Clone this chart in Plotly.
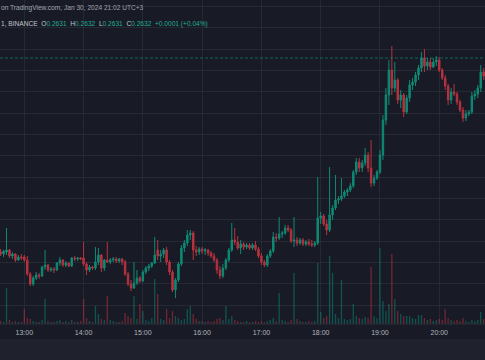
import plotly.graph_objects as go
import pandas as pd

# ---- data (3-minute candles, XRPUSDT-like, BINANCE) ----
open_ = [0.2438,0.2436,0.2438,0.2440,0.2434,0.2436,0.2430,0.2433,0.2433,0.2430,
         0.2416,0.2406,0.2412,0.2415,0.2414,0.2423,0.2425,0.2420,0.2421,0.2420,
         0.2427,0.2430,0.2425,0.2427,0.2424,0.2432,0.2431,0.2432,0.2432,0.2426,
         0.2420,0.2423,0.2422,0.2428,0.2435,0.2422,0.2430,0.2428,0.2430,0.2431,
         0.2429,0.2431,0.2428,0.2416,0.2406,0.2402,0.2407,0.2412,0.2409,0.2418,
         0.2422,0.2424,0.2427,0.2440,0.2434,0.2436,0.2440,0.2428,0.2418,0.2400,
         0.2410,0.2426,0.2442,0.2447,0.2455,0.2457,0.2440,0.2438,0.2441,0.2439,
         0.2440,0.2437,0.2434,0.2430,0.2420,0.2414,0.2422,0.2430,0.2440,0.2450,
         0.2448,0.2442,0.2446,0.2443,0.2445,0.2442,0.2445,0.2441,0.2434,0.2428,
         0.2425,0.2434,0.2439,0.2453,0.2452,0.2456,0.2457,0.2462,0.2460,0.2449,
         0.2450,0.2447,0.2450,0.2446,0.2448,0.2446,0.2445,0.2447,0.2472,0.2474,
         0.2466,0.2460,0.2475,0.2482,0.2490,0.2491,0.2494,0.2498,0.2500,0.2504,
         0.2518,0.2528,0.2522,0.2527,0.2535,0.2522,0.2507,0.2512,0.2518,0.2535,
         0.2570,0.2595,0.2620,0.2602,0.2610,0.2590,0.2595,0.2578,0.2592,0.2605,
         0.2608,0.2615,0.2622,0.2632,0.2624,0.2628,0.2623,0.2628,0.2630,0.2620,
         0.2612,0.2604,0.2590,0.2598,0.2596,0.2588,0.2580,0.2572,0.2576,0.2578,
         0.2594,0.2596,0.2602,0.2618]
high = [0.2441,0.2440,0.2462,0.2441,0.2438,0.2437,0.2435,0.2436,0.2435,0.2434,
        0.2418,0.2414,0.2418,0.2417,0.2424,0.2440,0.2426,0.2423,0.2423,0.2428,
        0.2433,0.2431,0.2429,0.2428,0.2433,0.2434,0.2433,0.2433,0.2448,0.2428,
        0.2425,0.2424,0.2443,0.2442,0.2436,0.2431,0.2448,0.2432,0.2433,0.2433,
        0.2432,0.2432,0.2430,0.2418,0.2410,0.2428,0.2420,0.2414,0.2420,0.2424,
        0.2426,0.2428,0.2453,0.2450,0.2440,0.2442,0.2443,0.2430,0.2420,0.2412,
        0.2428,0.2445,0.2450,0.2460,0.2460,0.2459,0.2444,0.2443,0.2443,0.2442,
        0.2441,0.2439,0.2437,0.2432,0.2424,0.2426,0.2432,0.2442,0.2467,0.2462,
        0.2454,0.2450,0.2448,0.2447,0.2447,0.2447,0.2449,0.2443,0.2437,0.2430,
        0.2436,0.2441,0.2458,0.2457,0.2473,0.2459,0.2465,0.2465,0.2462,0.2473,
        0.2453,0.2452,0.2452,0.2450,0.2451,0.2450,0.2449,0.2513,0.2478,0.2476,
        0.2470,0.2523,0.2485,0.2515,0.2494,0.2512,0.2500,0.2502,0.2507,0.2520,
        0.2532,0.2532,0.2530,0.2542,0.2538,0.2550,0.2515,0.2520,0.2540,0.2575,
        0.2602,0.2630,0.2644,0.2628,0.2612,0.2600,0.2597,0.2595,0.2610,0.2612,
        0.2618,0.2625,0.2638,0.2641,0.2632,0.2632,0.2632,0.2634,0.2633,0.2622,
        0.2615,0.2606,0.2602,0.2606,0.2598,0.2590,0.2583,0.2580,0.2580,0.2598,
        0.2600,0.2605,0.2625,0.2622]
low = [0.2434,0.2433,0.2435,0.2432,0.2431,0.2428,0.2429,0.2430,0.2428,0.2414,
       0.2404,0.2404,0.2410,0.2411,0.2413,0.2420,0.2418,0.2418,0.2417,0.2419,
       0.2424,0.2423,0.2423,0.2423,0.2423,0.2429,0.2429,0.2430,0.2424,0.2415,
       0.2418,0.2420,0.2420,0.2425,0.2418,0.2419,0.2427,0.2426,0.2428,0.2427,
       0.2427,0.2425,0.2414,0.2404,0.2399,0.2401,0.2405,0.2407,0.2408,0.2416,
       0.2419,0.2422,0.2426,0.2430,0.2428,0.2432,0.2425,0.2415,0.2398,0.2392,
       0.2408,0.2424,0.2438,0.2444,0.2450,0.2430,0.2434,0.2435,0.2436,0.2435,
       0.2434,0.2432,0.2428,0.2416,0.2411,0.2412,0.2420,0.2428,0.2438,0.2445,
       0.2440,0.2436,0.2440,0.2441,0.2440,0.2440,0.2439,0.2432,0.2425,0.2423,
       0.2423,0.2432,0.2437,0.2448,0.2450,0.2452,0.2455,0.2458,0.2447,0.2443,
       0.2444,0.2445,0.2444,0.2444,0.2444,0.2443,0.2443,0.2445,0.2466,0.2464,
       0.2455,0.2458,0.2470,0.2480,0.2486,0.2489,0.2492,0.2494,0.2498,0.2502,
       0.2515,0.2518,0.2518,0.2524,0.2518,0.2503,0.2504,0.2510,0.2516,0.2530,
       0.2565,0.2585,0.2595,0.2598,0.2586,0.2582,0.2573,0.2576,0.2588,0.2600,
       0.2604,0.2610,0.2618,0.2618,0.2620,0.2620,0.2622,0.2624,0.2618,0.2610,
       0.2600,0.2585,0.2586,0.2594,0.2585,0.2578,0.2568,0.2569,0.2574,0.2576,
       0.2590,0.2592,0.2598,0.2610]
close = [0.2436,0.2439,0.2440,0.2434,0.2436,0.2430,0.2433,0.2432,0.2430,0.2416,
         0.2406,0.2412,0.2415,0.2414,0.2423,0.2425,0.2420,0.2421,0.2420,0.2427,
         0.2430,0.2425,0.2427,0.2424,0.2432,0.2431,0.2432,0.2431,0.2426,0.2420,
         0.2423,0.2422,0.2428,0.2435,0.2422,0.2430,0.2428,0.2430,0.2431,0.2429,
         0.2431,0.2428,0.2416,0.2406,0.2402,0.2407,0.2412,0.2409,0.2418,0.2422,
         0.2424,0.2427,0.2435,0.2434,0.2436,0.2440,0.2428,0.2418,0.2400,0.2410,
         0.2426,0.2442,0.2447,0.2455,0.2457,0.2440,0.2438,0.2441,0.2439,0.2440,
         0.2437,0.2434,0.2430,0.2420,0.2414,0.2422,0.2430,0.2440,0.2450,0.2448,
         0.2442,0.2446,0.2443,0.2445,0.2442,0.2445,0.2441,0.2434,0.2428,0.2425,
         0.2434,0.2439,0.2453,0.2452,0.2456,0.2457,0.2462,0.2460,0.2449,0.2450,
         0.2447,0.2450,0.2446,0.2448,0.2446,0.2445,0.2447,0.2472,0.2474,0.2466,
         0.2460,0.2475,0.2482,0.2490,0.2491,0.2494,0.2498,0.2500,0.2504,0.2518,
         0.2528,0.2522,0.2527,0.2535,0.2522,0.2507,0.2512,0.2518,0.2535,0.2570,
         0.2595,0.2620,0.2602,0.2610,0.2590,0.2595,0.2578,0.2592,0.2605,0.2608,
         0.2615,0.2622,0.2632,0.2624,0.2628,0.2623,0.2628,0.2630,0.2620,0.2612,
         0.2604,0.2590,0.2598,0.2596,0.2588,0.2580,0.2572,0.2576,0.2578,0.2594,
         0.2596,0.2602,0.2618,0.2614]
volume = [3,2,36,4,2,3,2,2,15,6,
          5,3,2,2,4,25,3,2,2,3,
          4,2,3,2,4,2,2,3,25,6,
          3,2,18,10,5,4,28,4,3,2,
          2,3,11,8,6,28,5,20,13,4,
          3,6,45,30,5,4,15,6,13,8,
          6,4,5,15,18,10,5,3,3,2,
          3,2,3,5,6,4,18,5,8,4,
          3,2,2,3,2,2,3,2,3,2,
          3,4,6,3,31,4,3,2,4,51,
          5,3,2,2,3,2,3,61,12,6,
          8,68,51,10,6,44,5,4,5,20,
          8,6,5,7,6,57,8,6,76,23,
          13,20,70,25,13,10,8,8,8,6,
          5,9,9,6,4,5,3,4,5,4,
          15,6,4,3,4,3,6,3,2,4,
          3,4,12,5]
last_price = 0.2632
header_1 = "on TradingView.com, Jan 30, 2024 21:02 UTC+3"
legend_vals = {"O": "0.2631", "H": "0.2632", "L": "0.2631", "C": "0.2632"}
change_txt = "+0.0001 (+0.04%)"

times = pd.date_range("2024-01-30 12:36", periods=len(close), freq="3min")

UP = "#0e8a74"
DOWN = "#b8323f"
UP_V = "rgba(8,153,129,0.45)"
DOWN_V = "rgba(242,54,69,0.4)"
PANE = "#181b26"
STRIP = "#1f222c"
GRID = "rgba(48,52,64,0.55)"
TXT = "#9598a1"
FONT = "Liberation Sans, Arial, sans-serif"

vcolors = [UP_V if c >= o else DOWN_V for o, c in zip(open_, close)]

fig = go.Figure()
fig.add_trace(go.Bar(x=times, y=volume, marker=dict(color=vcolors, line=dict(width=0)),
                     yaxis="y", hoverinfo="skip"))
fig.add_trace(go.Candlestick(x=times, open=open_, high=high, low=low, close=close,
                             increasing=dict(line=dict(color=UP, width=1), fillcolor=UP),
                             decreasing=dict(line=dict(color=DOWN, width=1), fillcolor=DOWN),
                             whiskerwidth=0, yaxis="y2"))

PLOT_H = 324
fig.update_layout(
    width=485, height=360,
    margin=dict(l=0, r=0, t=0, b=360 - PLOT_H),
    paper_bgcolor=PANE, plot_bgcolor=PANE,
    showlegend=False, bargap=0.55,
    font=dict(family=FONT, color=TXT, size=7),
    xaxis=dict(type="date", range=["2024-01-30 12:35:24", "2024-01-30 20:46:18"],
               rangeslider=dict(visible=False), showgrid=True, gridcolor=GRID, gridwidth=1,
               tick0="2024-01-30 13:00:00", dtick=3600000, tickformat="%H:%M",
               ticks="", ticklabelstandoff=3, tickfont=dict(size=7, color="#b2b5be", family=FONT),
               zeroline=False, showline=False),
    yaxis=dict(range=[0, PLOT_H], showgrid=False, showticklabels=False, zeroline=False),
    yaxis2=dict(overlaying="y", range=[0.2366, 0.2690], showticklabels=False,
                showgrid=True, gridcolor=GRID, gridwidth=1, tick0=0.2641, dtick=0.002135,
                zeroline=False),
)

fig.add_shape(type="rect", xref="paper", yref="paper", x0=0, x1=1,
              y0=-36 / PLOT_H, y1=-15 / PLOT_H, fillcolor=STRIP, line=dict(width=0), layer="below")
fig.add_shape(type="line", xref="paper", yref="paper", x0=0, x1=1, y0=0, y1=0,
              line=dict(color="#2a2e39", width=1))
fig.add_shape(type="line", xref="paper", yref="y2", x0=0, x1=1, y0=last_price, y1=last_price,
              line=dict(color="rgba(8,153,129,0.6)", width=1, dash="3px,2px"))

fig.add_annotation(text=header_1, xref="paper", yref="paper", x=0, y=(PLOT_H - 8.3) / PLOT_H,
                   xanchor="left", yanchor="middle", showarrow=False,
                   font=dict(size=6.6, color="#a0a3ac", family=FONT), borderpad=0)
G = "#22ab94"
sp = "\u00a0\u00a0"
line2 = "1, BINANCE" + sp
for k, v in legend_vals.items():
    line2 += f"{k}<span style='color:{G}'>{v}</span>" + sp
line2 += f"<span style='color:{G}'>{change_txt}</span>"
fig.add_annotation(text=line2, xref="paper", yref="paper", x=0, y=(PLOT_H - 24.3) / PLOT_H,
                   xanchor="left", yanchor="middle", showarrow=False,
                   font=dict(size=6.6, color="#c3c6ce", family=FONT), borderpad=0)

fig.write_html("out.html", config={"displayModeBar": False},
               post_script="document.body.style.margin='0';document.body.style.background='%s';" % PANE)
